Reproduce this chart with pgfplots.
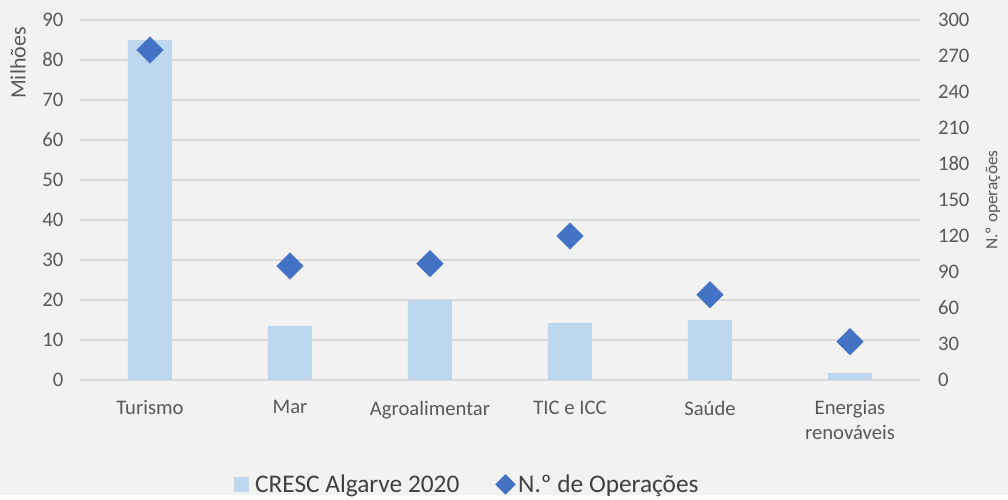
\documentclass[border=0pt]{standalone}
\usepackage{pgfplots}
\pgfplotsset{compat=1.18}
\usepackage{fontspec}
\setmainfont{Carlito}
\definecolor{bg}{HTML}{F2F2F2}
\definecolor{gridc}{HTML}{D9D9D9}
\definecolor{barc}{HTML}{BDD7EE}
\definecolor{markc}{HTML}{4472C4}
\definecolor{txt}{HTML}{595959}
\definecolor{legtxt}{HTML}{404040}
\begin{document}
\begin{tikzpicture}
\fill[bg] (-60pt,-86.25pt) rectangle (696pt,285pt);
\pgfplotsset{
  every axis/.append style={
    scale only axis, width=630pt, height=270pt,
    xmin=-0.5, xmax=5.5, clip=false,
    /pgf/number format/assume math mode=true,
    tick label style={font=\fontsize{15.5}{18.75}\selectfont, text=txt},
    major tick length=0pt,
    axis line style={draw=none},
  }
}
\begin{axis}[
  ymin=0, ymax=90, ytick={0,10,...,90},
  ymajorgrids, grid style={gridc, line width=1.1pt},
  xtick={0,...,5},
  xticklabels={Turismo,Mar,Agroalimentar,TIC e ICC,Saúde,{Energias\\renováveis}},
  xticklabel style={align=center, yshift=-12pt},
  yticklabel style={xshift=-9pt},
]
\addplot[ybar, bar width=33pt, fill=barc, draw=none] coordinates {(0,85) (1,13.5) (2,20) (3,14.3) (4,15) (5,1.7)};
\node[rotate=90, font=\fontsize{16.5}{18}\selectfont, text=txt] at ([xshift=-46.5pt, yshift=-32.25pt]rel axis cs:0,1) {Milhões};
\end{axis}
\begin{axis}[
  ymin=0, ymax=300, ytick={0,30,...,300},
  axis y line*=right, axis x line=none,
  xtick=\empty,
  yticklabel style={xshift=10pt},
  legend columns=2,
  legend style={at={(axis description cs:0.178,-0.29)}, anchor=west, draw=none, fill=none,
    font=\fontsize{19}{22}\selectfont, text=legtxt,
    /tikz/every even column/.append style={column sep=25pt}},
]
\addlegendimage{legend image code/.code={\fill[barc, draw=none] (0pt,-5.6pt) rectangle (11.2pt,5.6pt); \path[draw=none, fill=none] (0pt,0pt) -- (14pt,0pt);}}
\addlegendentry{CRESC Algarve 2020}
\addplot[only marks, mark=square*, mark size=7pt, color=markc, mark options={rotate=45, fill=markc, draw=markc},
  legend image code/.code={\draw[markc, fill=markc, rotate=45] (-5.2pt,-5.2pt) rectangle (5.2pt,5.2pt);}]
  coordinates {(0,275) (1,95) (2,97) (3,120) (4,71) (5,32)};
\addlegendentry{N.º de Operações}
\node[rotate=90, font=\fontsize{13}{15}\selectfont, text=txt] at ([xshift=54.75pt]rel axis cs:1,0.5) {N.º operações};
\end{axis}
\end{tikzpicture}
\end{document}
